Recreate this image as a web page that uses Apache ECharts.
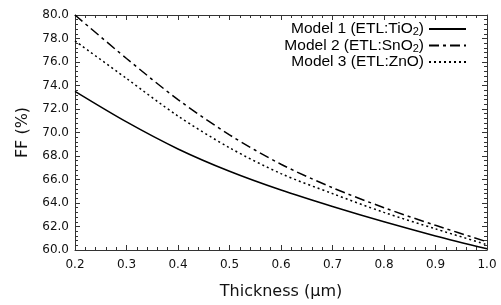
<!DOCTYPE html>
<html>
<head>
<meta charset="utf-8">
<script src="https://cdn.jsdelivr.net/npm/echarts@6/dist/echarts.min.js"></script>
<style>
  html, body { margin: 0; padding: 0; background: #fff; }
  #chart { width: 501px; height: 305px; }
</style>
</head>
<body>
<div id="chart"></div>
<script>
// thickness of the absorber (µm) and FF (%) for the three ETL models
const thickness = [0.2, 0.3, 0.4, 0.5, 0.6, 0.7, 0.8, 0.9, 1.0];
const model1FF = [73.5, 70.9, 68.6, 66.7, 65.1, 63.7, 62.4, 61.2, 60.1]; // TiO2
const model2FF = [80.0, 76.3, 72.8, 69.8, 67.3, 65.3, 63.6, 62.1, 60.7]; // SnO2
const model3FF = [77.8, 74.6, 71.4, 68.7, 66.5, 64.8, 63.2, 61.8, 60.45]; // ZnO
const seriesNames = ['Model 1 (ETL:TiO2)', 'Model 2 (ETL:SnO2)', 'Model 3 (ETL:ZnO)'];

const chart = echarts.init(document.getElementById('chart'));

const axisColor = '#333';
const tickFont = 'DejaVu Sans';

const pairs = (ys) => thickness.map((x, i) => [x, ys[i]]);

// shared tick style for the frame axes
const frameX = (pos, showLabel) => ({
  type: 'value',
  position: pos,
  min: 0.2,
  max: 1.0,
  interval: 0.1,
  axisLine: { show: true, lineStyle: { color: axisColor, width: 1 } },
  axisTick: { show: true, inside: true, length: 5, lineStyle: { color: axisColor } },
  minorTick: { show: true, splitNumber: 5, length: 3, lineStyle: { color: axisColor } },
  splitLine: { show: false },
  axisLabel: {
    show: showLabel,
    margin: 9,
    color: '#111',
    fontFamily: tickFont,
    fontSize: 12,
    formatter: (v) => v.toFixed(1)
  }
});

const frameY = (pos, showLabel) => ({
  type: 'value',
  position: pos,
  min: 60,
  max: 80,
  interval: 2,
  axisLine: { show: true, lineStyle: { color: axisColor, width: 1 } },
  axisTick: { show: true, inside: true, length: 5, lineStyle: { color: axisColor } },
  minorTick: { show: true, splitNumber: 5, length: 3, lineStyle: { color: axisColor } },
  splitLine: { show: false },
  axisLabel: {
    show: showLabel,
    margin: 6,
    color: '#111',
    fontFamily: tickFont,
    fontSize: 12,
    formatter: (v) => v.toFixed(1)
  }
});

const xBottom = frameX('bottom', true);
xBottom.name = 'Thickness (μm)';
xBottom.nameLocation = 'middle';
xBottom.nameGap = 34;
xBottom.nameTextStyle = { fontFamily: tickFont, fontSize: 16, color: '#111' };

const yLeft = frameY('left', true);
yLeft.name = 'FF (%)';
yLeft.nameLocation = 'middle';
yLeft.nameGap = 44;
yLeft.nameTextStyle = { fontFamily: tickFont, fontSize: 16, color: '#111' };

const lineTypes = ['solid', [10, 4, 3, 4], [2, 3]];
const data = [model1FF, model2FF, model3FF];

chart.setOption({
  animation: false,
  grid: { left: 75, right: 14, top: 15, bottom: 54 },
  legend: {
    orient: 'vertical',
    right: 29,
    top: 16,
    align: 'right',
    itemWidth: 37,
    itemHeight: 14,
    itemGap: 0,
    data: seriesNames,
    itemStyle: { opacity: 0 },
    formatter: (name) => name.replace(/O2\)/, 'O{sub|2})'),
    textStyle: {
      fontFamily: 'Liberation Sans',
      fontSize: 15.5,
      color: '#000',
      rich: {
        sub: { fontFamily: 'Liberation Sans', fontSize: 11, color: '#000', padding: [6, 0, 0, 0] }
      }
    }
  },
  xAxis: [xBottom, frameX('top', false)],
  yAxis: [yLeft, frameY('right', false)],
  series: data.map((ys, i) => ({
    name: seriesNames[i],
    type: 'line',
    data: pairs(ys),
    smooth: 0.3,
    symbol: 'none',
    lineStyle: { color: '#000', width: 1.5, type: lineTypes[i] },
    itemStyle: { color: '#000' }
  }))
});
</script>
</body>
</html>
